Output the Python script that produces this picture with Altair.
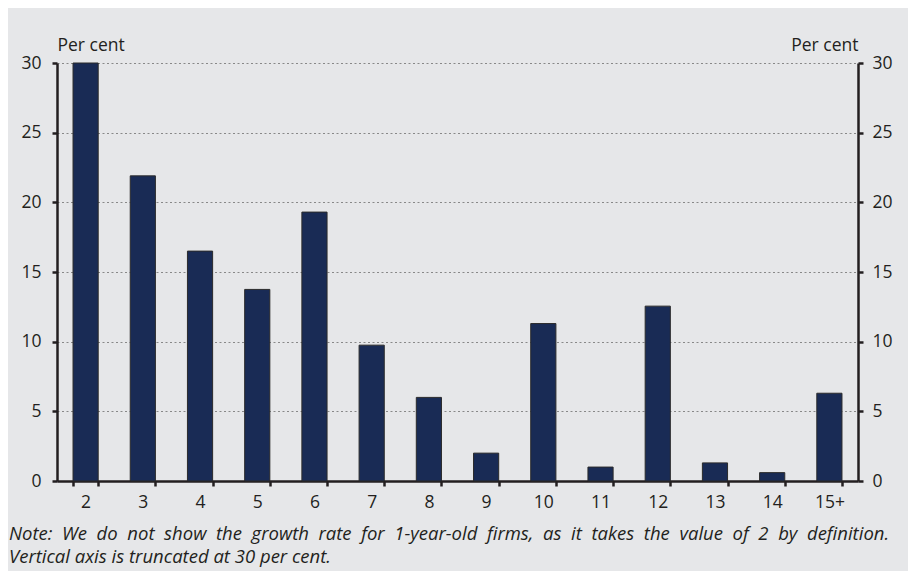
import altair as alt
import pandas as pd

ages = ["2", "3", "4", "5", "6", "7", "8", "9", "10", "11", "12", "13", "14", "15+"]
values = [30.0, 21.9, 16.5, 13.75, 19.3, 9.75, 6.0, 2.0, 11.3, 1.0, 12.55, 1.3, 0.6, 6.3]
y_ticks = [0, 5, 10, 15, 20, 25, 30]
note_lines = [
    "Note: We do not show the growth rate for 1-year-old firms, as it takes the value of 2 by definition.",
    "Vertical axis is truncated at 30 per cent.",
]

df = pd.DataFrame({"age": ages, "value": values})
# first note line is justified in the original: widen its word gaps
justified = [note_lines[0].replace(" ", " \u00a0"), note_lines[1]]
notes = pd.DataFrame({"t": justified, "i": [0, 1]})

FONT = "Open Sans"
INK = "#231f20"
BG = "#e6e7e9"

xscale = alt.Scale(paddingInner=0.56, paddingOuter=0.28)
yscale = alt.Scale(domain=[0, 30], nice=False, zero=True)

xaxis = alt.Axis(
    title=None, labelAngle=0, tickBand="extent", domainColor=INK, domainWidth=2.5,
    tickColor=INK, tickWidth=2.5, tickSize=5, labelFont=FONT, labelFontSize=17.5,
    labelColor=INK, labelPadding=7, grid=False,
)

left_axis = alt.Axis(
    orient="left", values=y_ticks, title="Per cent", titleAngle=0, titleX=0, titleY=-13,
    titleAlign="left", titleBaseline="alphabetic", titleFont=FONT, titleFontSize=17.5,
    titleFontWeight="normal", titleColor=INK,
    domainColor=INK, domainWidth=2.5, tickColor=INK, tickWidth=2.5, tickSize=5,
    labelFont=FONT, labelFontSize=17.5, labelColor=INK, labelPadding=11,
    grid=True, gridColor="#888888", gridDash=[2, 2.5], gridWidth=1,
)

right_axis = alt.Axis(
    orient="right", values=y_ticks, title="Per cent", titleAngle=0, titleX=0, titleY=-13,
    titleAlign="right", titleBaseline="alphabetic", titleFont=FONT, titleFontSize=17.5,
    titleFontWeight="normal", titleColor=INK,
    domainColor=INK, domainWidth=2.5, tickColor=INK, tickWidth=2.5, tickSize=5,
    labelFont=FONT, labelFontSize=17.5, labelColor=INK, labelPadding=9, grid=False,
)

bars = alt.Chart(df).mark_bar(color="#192b55", stroke="#2b2b2b", strokeWidth=1).encode(
    x=alt.X("age:N", sort=None, scale=xscale, axis=xaxis),
    y=alt.Y("value:Q", scale=yscale, axis=left_axis),
)

right = alt.Chart(df).mark_bar(opacity=0).encode(
    x=alt.X("age:N", sort=None, scale=xscale, axis=xaxis),
    y=alt.Y("value:Q", scale=yscale, axis=right_axis),
)

note1 = alt.Chart(notes[notes.i == 0]).mark_text(
    align="left", baseline="alphabetic", font=FONT, fontSize=18.5, fontStyle="italic", color=INK
).encode(text="t:N", x=alt.value(-48), y=alt.value(477))

note2 = alt.Chart(notes[notes.i == 1]).mark_text(
    align="left", baseline="alphabetic", font=FONT, fontSize=18.5, fontStyle="italic", color=INK
).encode(text="t:N", x=alt.value(-48), y=alt.value(500))

chart = alt.layer(bars, right, note1, note2).resolve_axis(y="independent").properties(
    width=801, height=418, background=BG,
    padding={"left": 49, "top": 55, "right": 50, "bottom": 90},
    autosize=alt.AutoSizeParams(type="none"),
).configure_view(stroke=None)

chart.save("out.html", embed_options={"renderer": "svg", "actions": False})
